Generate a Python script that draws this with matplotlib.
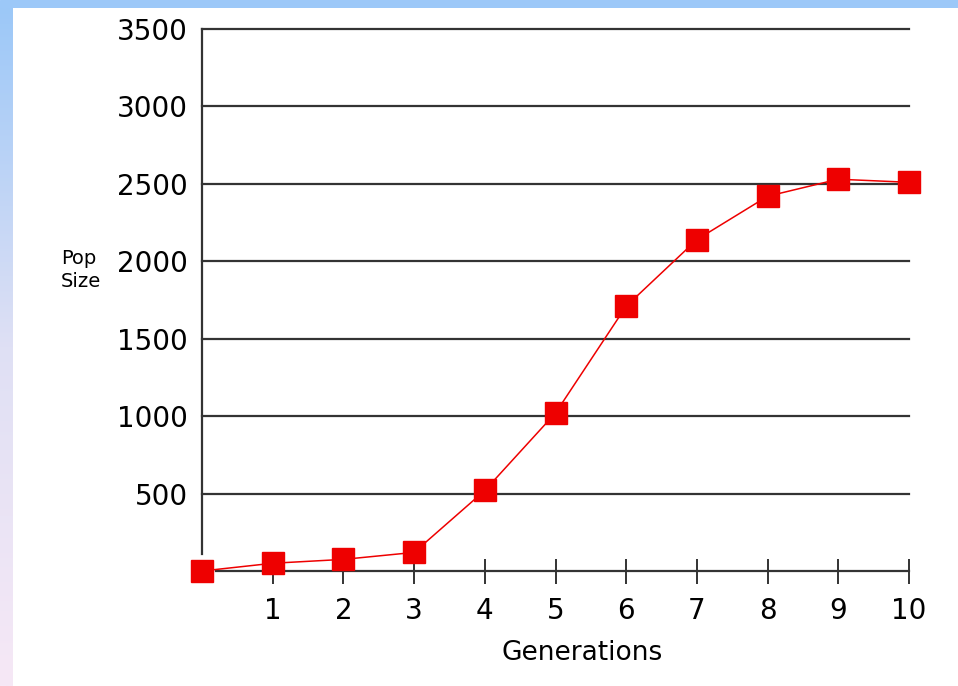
import numpy as np
import matplotlib.pyplot as plt
from matplotlib.colors import LinearSegmentedColormap

# population size per generation
generations = [0, 1, 2, 3, 4, 5, 6, 7, 8, 9, 10]
pop_size = [0, 50, 75, 120, 520, 1020, 1710, 2140, 2420, 2530, 2510]

x_ticks = [1, 2, 3, 4, 5, 6, 7, 8, 9, 10]
y_ticks = [500, 1000, 1500, 2000, 2500, 3000, 3500]

fig = plt.figure(figsize=(9.58, 6.86), dpi=100, facecolor='white')

# slide-like border: blue strip on top, fading strip on the left
top = fig.add_axes([0, 1 - 8 / 686, 1, 8 / 686])
top.set_axis_off()
top.add_patch(plt.Rectangle((0, 0), 1, 1, color='#9cc8f8', transform=top.transAxes))

left = fig.add_axes([0, 0, 13 / 958, 1 - 8 / 686])
cmap = LinearSegmentedColormap.from_list('edge', ['#f6e8f6', '#dfe0f4', '#9cc8f8'])
left.imshow(np.linspace(0, 1, 256).reshape(-1, 1), aspect='auto', cmap=cmap, origin='lower')
left.set_axis_off()

ax = fig.add_axes([202 / 958, 1 - 571 / 686, 707 / 958, 542 / 686])
ax.set_xlim(0, 10)
ax.set_ylim(0, 3500)

ax.plot(generations, pop_size, color='#ee0000', lw=1.1, marker='s', markersize=15.5,
        markerfacecolor='#ee0000', markeredgecolor='#ee0000', clip_on=False, zorder=5)

ax.set_yticks(y_ticks)
ax.set_xticks(x_ticks)
ax.set_yticklabels([str(v) for v in y_ticks], fontsize=20)
ax.set_xticklabels([str(v) for v in x_ticks], fontsize=20)
ax.yaxis.grid(True, color='#333333', lw=1.6)
for gl in ax.get_ygridlines():
    gl.set_clip_on(False)
ax.set_axisbelow(True)

for s in ['top', 'right']:
    ax.spines[s].set_visible(False)
ax.spines['left'].set_color('#333333')
ax.spines['left'].set_linewidth(1.6)
ax.spines['left'].set_bounds(110, 3500)
ax.spines['bottom'].set_color('#333333')
ax.spines['bottom'].set_linewidth(1.6)
ax.spines['bottom'].set_bounds(0.2, 10)

ax.tick_params(axis='y', direction='in', length=4, width=1.4, color='#333333', pad=10)
ax.tick_params(axis='x', direction='inout', length=18, width=1.4, color='#333333', pad=10)

fig.text(582 / 958, 1 - 653 / 686, 'Generations', fontsize=19, ha='center', va='center')
fig.text(61 / 958, 1 - 270 / 686, 'Pop\nSize', fontsize=14, ha='left', va='center',
         linespacing=1.3)

fig.savefig('out.png', dpi=100, facecolor='white')
